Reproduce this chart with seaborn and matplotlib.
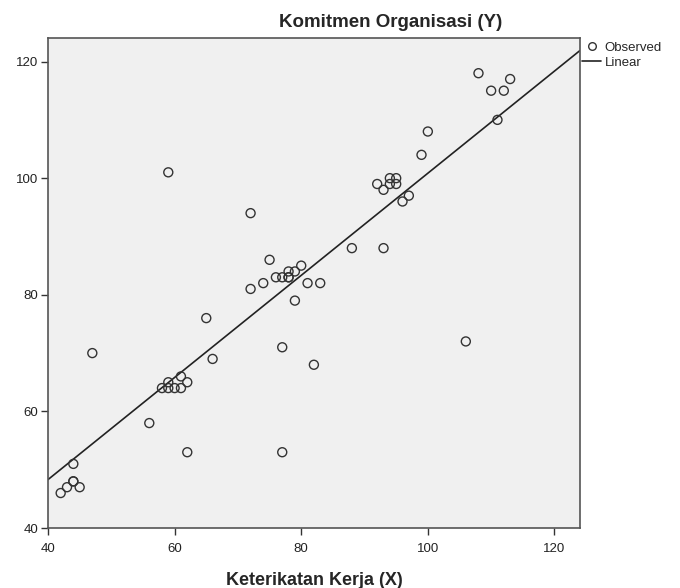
import numpy as np
import pandas as pd
import seaborn as sns
import matplotlib.pyplot as plt
from matplotlib.lines import Line2D

# Keterikatan Kerja (X) vs Komitmen Organisasi (Y)
x_vals = [42, 43, 44, 44, 44, 45, 47, 56, 58, 59, 59, 60, 61, 61, 62, 62, 59, 65, 66,
          72, 72, 74, 75, 76, 77, 78, 78, 78, 79, 80, 81, 83, 79, 77, 77, 82,
          88, 93, 92, 93, 94, 94, 95, 95, 96, 97, 99, 100, 106, 108, 110, 111, 112, 113]
y_vals = [46, 47, 48, 48, 51, 47, 70, 58, 64, 65, 64, 64, 64, 66, 65, 53, 101, 76, 69,
          94, 81, 82, 86, 83, 83, 84, 83, 83, 84, 85, 82, 82, 79, 71, 53, 68,
          88, 88, 99, 98, 100, 99, 100, 99, 96, 97, 104, 108, 72, 118, 115, 110, 115, 117]

x_ticks = [40, 60, 80, 100, 120]
y_ticks = [40, 60, 80, 100, 120]

df = pd.DataFrame({'x': x_vals, 'y': y_vals})

sns.set_style('white')
plt.rcParams['font.family'] = ['Liberation Sans', 'DejaVu Sans']

fig = plt.figure(figsize=(6.8, 5.88), dpi=100)
ax = fig.add_axes([0.0706, 0.102, 0.782, 0.833])
ax.set_facecolor('#f0f0f0')
ax.set_xlim(40, 124)
ax.set_ylim(40, 124)

sns.regplot(data=df, x='x', y='y', scatter=False, ci=None, truncate=False,
            line_kws={'color': '#222222', 'linewidth': 1.2}, ax=ax)
sns.scatterplot(data=df, x='x', y='y', marker='o', s=42, facecolor='none',
                edgecolor='#333333', linewidth=1.0, ax=ax, zorder=3)

ax.set_xlim(40, 124)
ax.set_ylim(40, 124)
ax.set_xticks(x_ticks)
ax.set_yticks(y_ticks)
ax.tick_params(axis='both', direction='out', length=5, width=1, color='#333333',
               labelsize=9.5, labelcolor='#222222', left=True, bottom=True)
ax.tick_params(axis='x', pad=6)
ax.tick_params(axis='y', pad=2)
for sp in ax.spines.values():
    sp.set_color('#555555')
    sp.set_linewidth(1.2)

ax.set_xlabel('Keterikatan Kerja (X)', fontsize=13, fontweight='bold', labelpad=12)
ax.set_ylabel('')
fig.text(0.574, 0.962, 'Komitmen Organisasi (Y)', ha='center', va='center',
         fontsize=13.5, fontweight='bold')

handles = [Line2D([], [], marker='o', linestyle='none', markerfacecolor='none',
                  markeredgecolor='#333333', markersize=5.5),
           Line2D([], [], color='#222222', linewidth=1.2)]
ax.legend(handles, ['Observed', 'Linear'], loc='upper left',
          bbox_to_anchor=(0.995, 1.004), frameon=False, fontsize=9.5,
          handlelength=1.4, handletextpad=0.3, borderaxespad=0.0, labelspacing=0.2)

plt.savefig('out.png', dpi=100)
